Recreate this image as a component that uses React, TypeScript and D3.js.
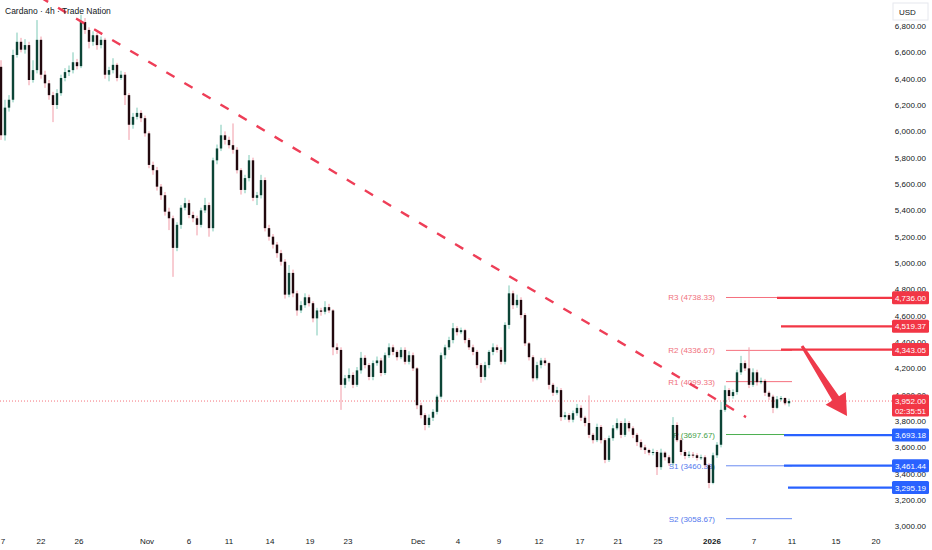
import * as React from "react";
import * as d3 from "d3";

const W = 932;
const H = 550;
const AXIS_X = 892;

// 4h bars: [open, high, low, close]
const candles: [number, number, number, number][] = [
  [6490, 6540, 5935, 5970], [5970, 6240, 5930, 6180], [6180, 6275, 6150, 6240], [6240, 6620, 6220, 6580],
  [6580, 6750, 6560, 6680], [6680, 6710, 6600, 6620], [6620, 6700, 6590, 6655], [6655, 6680, 6350, 6390],
  [6390, 6540, 6370, 6465], [6465, 6845, 6440, 6695], [6695, 6720, 6400, 6430], [6430, 6460, 6330, 6365],
  [6365, 6390, 6240, 6275], [6275, 6300, 6070, 6200], [6200, 6320, 6170, 6290], [6290, 6430, 6270, 6405],
  [6405, 6480, 6380, 6450], [6450, 6500, 6420, 6465], [6465, 6600, 6440, 6525], [6525, 6550, 6470, 6495],
  [6495, 6885, 6480, 6830], [6830, 6860, 6740, 6770], [6770, 6790, 6630, 6680], [6680, 6760, 6650, 6730],
  [6730, 6750, 6620, 6655], [6655, 6720, 6630, 6695], [6695, 6710, 6400, 6430], [6430, 6490, 6380, 6465],
  [6465, 6555, 6440, 6505], [6505, 6520, 6380, 6405], [6405, 6460, 6390, 6430], [6430, 6450, 6200, 6275],
  [6275, 6290, 5935, 6050], [6050, 6140, 6020, 6110], [6110, 6180, 6090, 6140], [6140, 6160, 6070, 6100],
  [6100, 6120, 5960, 5985], [5985, 6000, 5720, 5745], [5745, 5770, 5670, 5705], [5705, 5730, 5550, 5580],
  [5580, 5600, 5480, 5515], [5515, 5540, 5360, 5390], [5390, 5420, 5250, 5340], [5340, 5360, 4895, 5115],
  [5115, 5310, 5090, 5290], [5290, 5440, 5260, 5420], [5420, 5495, 5400, 5455], [5455, 5480, 5340, 5365],
  [5365, 5390, 5310, 5340], [5340, 5360, 5210, 5290], [5290, 5420, 5270, 5400], [5400, 5495, 5380, 5440],
  [5440, 5460, 5200, 5265], [5265, 5800, 5240, 5780], [5780, 5900, 5750, 5870], [5870, 6050, 5850, 5970],
  [5970, 6000, 5900, 5935], [5935, 5960, 5870, 5895], [5895, 6060, 5830, 5860], [5860, 5880, 5680, 5705],
  [5705, 5720, 5520, 5555], [5555, 5670, 5530, 5645], [5645, 5820, 5620, 5780], [5780, 5800, 5470, 5495],
  [5495, 5540, 5440, 5515], [5515, 5670, 5490, 5630], [5630, 5650, 5240, 5265], [5265, 5290, 5170, 5200],
  [5200, 5220, 5110, 5140], [5140, 5160, 5040, 5075], [5075, 5100, 4980, 5010], [5010, 5030, 4730, 4760],
  [4760, 4985, 4740, 4925], [4925, 4950, 4740, 4770], [4770, 4790, 4600, 4640], [4640, 4710, 4620, 4680],
  [4680, 4770, 4660, 4740], [4740, 4760, 4670, 4695], [4695, 4710, 4550, 4580], [4580, 4660, 4450, 4640],
  [4640, 4660, 4600, 4630], [4630, 4710, 4610, 4665], [4665, 4690, 4620, 4640], [4640, 4650, 4300, 4360],
  [4360, 4390, 4310, 4340], [4340, 4360, 3885, 4075], [4075, 4150, 4050, 4125], [4125, 4200, 4100, 4150],
  [4150, 4170, 4050, 4075], [4075, 4210, 4060, 4185], [4185, 4325, 4160, 4280], [4280, 4300, 4200, 4225],
  [4225, 4240, 4110, 4135], [4135, 4260, 4110, 4240], [4240, 4290, 4220, 4260], [4260, 4280, 4140, 4165],
  [4165, 4320, 4150, 4300], [4300, 4390, 4280, 4360], [4360, 4380, 4300, 4325], [4325, 4340, 4260, 4285],
  [4285, 4360, 4270, 4340], [4340, 4360, 4230, 4250], [4250, 4330, 4230, 4300], [4300, 4320, 4180, 4200],
  [4200, 4210, 3890, 3920], [3920, 3940, 3820, 3845], [3845, 3860, 3730, 3770], [3770, 3850, 3750, 3825],
  [3825, 3890, 3800, 3870], [3870, 4000, 3850, 3985], [3985, 4320, 3970, 4300], [4300, 4380, 4270, 4360],
  [4360, 4440, 4340, 4415], [4415, 4545, 4390, 4505], [4505, 4520, 4450, 4475], [4475, 4510, 4460, 4490],
  [4490, 4500, 4390, 4415], [4415, 4430, 4340, 4360], [4360, 4380, 4300, 4325], [4325, 4340, 4200, 4225],
  [4225, 4240, 4090, 4135], [4135, 4250, 4110, 4225], [4225, 4340, 4200, 4325], [4325, 4390, 4300, 4360],
  [4360, 4380, 4320, 4340], [4340, 4360, 4230, 4250], [4250, 4550, 4230, 4530], [4530, 4830, 4500, 4770],
  [4770, 4790, 4650, 4680], [4680, 4760, 4660, 4720], [4720, 4740, 4580, 4605], [4605, 4620, 4370, 4390],
  [4390, 4400, 4260, 4285], [4285, 4300, 4100, 4125], [4125, 4250, 4110, 4225], [4225, 4280, 4200, 4260],
  [4260, 4280, 4220, 4240], [4240, 4250, 4040, 4075], [4075, 4090, 3990, 4015], [4015, 4060, 4000, 4035],
  [4035, 4050, 3800, 3830], [3830, 3870, 3810, 3845], [3845, 3860, 3790, 3810], [3810, 3880, 3790, 3860],
  [3860, 3930, 3840, 3900], [3900, 3920, 3800, 3825], [3825, 3840, 3760, 3785], [3785, 3995, 3670, 3695],
  [3695, 3710, 3630, 3655], [3655, 3780, 3640, 3755], [3755, 3770, 3630, 3655], [3655, 3670, 3480, 3505],
  [3505, 3690, 3490, 3670], [3670, 3770, 3650, 3745], [3745, 3820, 3730, 3785], [3785, 3800, 3670, 3695],
  [3695, 3820, 3680, 3785], [3785, 3800, 3720, 3745], [3745, 3760, 3670, 3695], [3695, 3710, 3610, 3640],
  [3640, 3660, 3580, 3600], [3600, 3620, 3550, 3580], [3580, 3590, 3540, 3560], [3560, 3590, 3540, 3565],
  [3565, 3580, 3390, 3450], [3450, 3590, 3430, 3560], [3560, 3570, 3500, 3525], [3525, 3540, 3460, 3480],
  [3480, 3830, 3460, 3770], [3770, 3790, 3640, 3655], [3655, 3670, 3540, 3565], [3565, 3580, 3510, 3535],
  [3535, 3570, 3520, 3545], [3545, 3565, 3520, 3540], [3540, 3555, 3500, 3520], [3520, 3545, 3505, 3525],
  [3525, 3540, 3445, 3465], [3465, 3480, 3290, 3330], [3330, 3560, 3320, 3540], [3540, 3640, 3520, 3620],
  [3620, 3945, 3600, 3885], [3885, 4070, 3870, 4035], [4035, 4050, 3960, 3990], [3990, 4040, 3970, 4020],
  [4020, 4190, 4000, 4170], [4170, 4295, 4150, 4240], [4240, 4260, 4180, 4200], [4200, 4360, 4050, 4075],
  [4075, 4200, 4060, 4170], [4170, 4190, 4070, 4095], [4095, 4130, 4080, 4105], [4105, 4120, 3990, 4015],
  [4015, 4030, 3960, 3985], [3985, 4000, 3860, 3900], [3900, 3990, 3890, 3965], [3965, 3990, 3950, 3975],
  [3975, 3980, 3920, 3935], [3935, 3970, 3910, 3952],
];

const priceTicks = [3000, 3200, 3400, 3600, 3800, 4000, 4200, 4400, 4600, 4800, 5000, 5200, 5400, 5600, 5800, 6000, 6200, 6400, 6600, 6800];

// time axis labels and the bar position they sit on
const timeLabels = ["7", "22", "26", "Nov", "6", "11", "14", "19", "23", "Dec", "4", "9", "12", "17", "21", "25", "2026", "7", "11", "15", "20"];
const timeBars = [0.5, 10, 19.5, 36.5, 47, 57, 67.25, 77.25, 86.75, 104.25, 114.25, 124.5, 134.5, 144.75, 154.25, 164.25, 177.75, 188.25, 197.75, 208.75, 218.75];

// pivot points (thin lines with labels)
const pivotNames = ["R3", "R2", "R1", "P", "S1", "S2"];
const pivotValues = [4738.33, 4336.67, 4099.33, 3697.67, 3460.33, 3058.67];
const pivotKinds = ["r", "r", "r", "p", "s", "s"];
const pivotFromBar = 181.25;
const pivotToBar = 197.75;

// key levels (thick lines tagged on the price scale)
const levelValues = [4736.0, 4519.37, 4343.05, 3693.18, 3461.44, 3295.19];
const levelKinds = ["r", "r", "r", "s", "s", "s"];
const levelFromBars = [194, 195, 195, 195.75, 195.75, 196.75];

// dashed downtrend line
const trendBars = [9.75, 186.25];
const trendPrices = [7020, 3830];

// projection arrow
const arrowBars = [200.25, 211.5];
const arrowPrices = [4370, 3838];

const lastPrice = 3952.0;
const countdown = "02:35:51";

const FONT = "'Liberation Sans', Arial, sans-serif";
const RED = "#f23645";
const BLUE = "#2962ff";

export default function App() {
  const x = d3.scaleLinear().domain([-0.25, 222.75]).range([0, AXIS_X]);
  const y = d3.scaleLinear().domain([3000, 6800]).range([526.4, 26]);

  const fmt = d3.format(",.2f");
  const thinColor = (k: string) => (k === "r" ? "#f5707e" : k === "p" ? "#4caf50" : "#6a8cf2");
  const labelColor = (k: string) => (k === "r" ? "#f0707c" : k === "p" ? "#43a047" : "#5277ee");

  // arrow polygon
  const p0 = [x(arrowBars[0]), y(arrowPrices[0])];
  const p1 = [x(arrowBars[1]), y(arrowPrices[1])];
  const dx = p1[0] - p0[0];
  const dy = p1[1] - p0[1];
  const len = Math.hypot(dx, dy);
  const ux = dx / len, uy = dy / len;
  const px = -uy, py = ux;
  const neck = [p1[0] - ux * 21, p1[1] - uy * 21];
  const pt = (c: number[], w: number) => `${c[0] + px * w},${c[1] + py * w}`;
  const arrowPts = [
    pt(p0, 1.5), pt(neck, 4), pt(neck, 12), `${p1[0]},${p1[1]}`, pt(neck, -12), pt(neck, -4), pt(p0, -1.5),
  ].join(" ");

  return (
    <svg width={W} height={H} style={{ position: "fixed", left: 0, top: 0, background: "#fff" }} fontFamily={FONT}>
      <rect width={W} height={H} fill="#fff" />

      {/* pivot labels and thin lines */}
      {pivotValues.map((v, i) => (
        <g key={"pv" + i}>
          <text x={715} y={y(v) + 3} fontSize={8} fill={labelColor(pivotKinds[i])} textAnchor="end">
            {`${pivotNames[i]} (${v.toFixed(2)})`}
          </text>
          <line x1={x(pivotFromBar)} x2={x(pivotToBar)} y1={y(v)} y2={y(v)} stroke={thinColor(pivotKinds[i])} strokeWidth={1} />
        </g>
      ))}

      {/* current price line */}
      <line x1={0} x2={AXIS_X} y1={y(lastPrice)} y2={y(lastPrice)} stroke={RED} strokeWidth={1} strokeDasharray="1 2" opacity={0.7} />

      {/* candles */}
      {candles.map(([o, h, l, c], i) => {
        const up = c >= o;
        const cx = x(i);
        const top = y(Math.max(o, c));
        const bot = y(Math.min(o, c));
        return (
          <g key={"c" + i}>
            <line x1={cx} x2={cx} y1={y(h)} y2={y(l)} stroke={up ? "#7cc9b6" : "#f19aa6"} strokeWidth={1} />
            <rect x={cx - 1.2} y={top} width={2.4} height={Math.max(1, bot - top)} fill={up ? "#0c4436" : "#22090e"} />
          </g>
        );
      })}

      {/* key levels */}
      {levelValues.map((v, i) => (
        <line key={"lv" + i} x1={x(levelFromBars[i])} x2={AXIS_X} y1={y(v)} y2={y(v)} stroke={levelKinds[i] === "r" ? RED : BLUE} strokeWidth={2.2} />
      ))}

      {/* trend line */}
      <line
        x1={x(trendBars[0])} y1={y(trendPrices[0])} x2={x(trendBars[1])} y2={y(trendPrices[1])}
        stroke="#ee3e57" strokeWidth={2.4} strokeDasharray="9.5 11.5"
      />

      {/* arrow */}
      <polygon points={arrowPts} fill="#ee3a4b" />

      {/* title */}
      <text x={5} y={14} fontSize={8.5} fill="#131722">Cardano · 4h · Trade Nation</text>

      {/* price axis */}
      <rect x={893} y={3} width={35} height={17} fill="#fff" stroke="#e6e8ee" />
      <text x={899} y={14.5} fontSize={8} fill="#131722">USD</text>
      {priceTicks.map((v) => (
        <text key={"pt" + v} x={926} y={y(v) + 3} fontSize={8} fill="#131722" textAnchor="end">{fmt(v)}</text>
      ))}

      {levelValues.map((v, i) => (
        <g key={"lb" + i}>
          <rect x={892} y={y(v) - 6.5} width={37} height={13} rx={1.5} fill={levelKinds[i] === "r" ? RED : BLUE} />
          <text x={910.5} y={y(v) + 3} fontSize={8} fill="#fff" textAnchor="middle">{fmt(v)}</text>
        </g>
      ))}

      <rect x={892} y={y(lastPrice) - 6.5} width={37} height={22} rx={1.5} fill={RED} />
      <text x={910.5} y={y(lastPrice) + 3} fontSize={8} fill="#fff" textAnchor="middle">{fmt(lastPrice)}</text>
      <text x={910.5} y={y(lastPrice) + 13} fontSize={8} fill="#fff" textAnchor="middle">{countdown}</text>

      {/* time axis */}
      {timeLabels.map((t, i) => (
        <text key={"tl" + i} x={x(timeBars[i])} y={544} fontSize={8} fill="#131722" textAnchor="middle" fontWeight={t === "2026" ? 700 : 400}>
          {t}
        </text>
      ))}
    </svg>
  );
}
